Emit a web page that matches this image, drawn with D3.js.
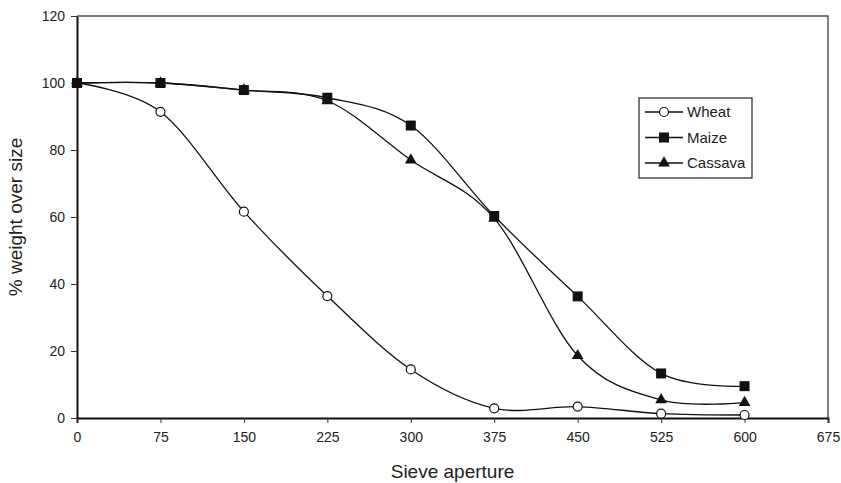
<!DOCTYPE html>
<html>
<head>
<meta charset="utf-8">
<script src="https://cdn.jsdelivr.net/npm/d3@7"></script>
<style>
    body { margin: 0; background: #fff; }
    svg { display: block; font-family: "Liberation Sans", Arial, sans-serif; }
</style>
</head>
<body>
<div id="chart"></div>
<script>
// Sieve apertures (x values)
const apertures = [0, 75, 150, 225, 300, 375, 450, 525, 600];

// % weight over size for each flour
const wheat   = [100, 91.4, 61.6, 36.4, 14.5, 2.9, 3.4, 1.3, 0.9];
const maize   = [100, 100, 97.9, 95.6, 87.3, 60.3, 36.3, 13.3, 9.5];
const cassava = [100, 100, 97.9, 94.7, 77.0, 59.6, 18.6, 5.4, 4.6];

// Tick labels
const xTicks = [0, 75, 150, 225, 300, 375, 450, 525, 600, 675];
const yTicks = [0, 20, 40, 60, 80, 100, 120];

const seriesNames = ["Wheat", "Maize", "Cassava"];
const seriesValues = [wheat, maize, cassava];

// Set up the dimensions of the chart
const W = 841, H = 483;
const margin = {top: 16, right: 13, bottom: 65, left: 77};
const width = W - margin.left - margin.right;
const height = H - margin.top - margin.bottom;

const svg = d3.select("#chart")
    .append("svg")
    .attr("width", W)
    .attr("height", H);

const g = svg.append("g")
    .attr("transform", `translate(${margin.left}, ${margin.top})`);

// Scales
const x = d3.scaleLinear().domain([0, 675]).range([0, width]);
const y = d3.scaleLinear().domain([0, 120]).range([height, 0]);

// Plot area border (top and right)
g.append("path")
    .attr("d", `M0,0H${width}V${height}`)
    .attr("fill", "none")
    .attr("stroke", "#555")
    .attr("stroke-width", 1.5);

// X axis
const xAxis = g.append("g")
    .attr("transform", `translate(0, ${height})`)
    .call(d3.axisBottom(x).tickValues(xTicks).tickSize(5).tickPadding(9).tickFormat(d3.format("d")));
xAxis.select(".domain").attr("stroke", "#111").attr("stroke-width", 2);
xAxis.selectAll(".tick line").attr("stroke", "#333");
xAxis.selectAll(".tick text").style("font-size", "14px").attr("fill", "#222");

// Y axis
const yAxis = g.append("g")
    .call(d3.axisLeft(y).tickValues(yTicks).tickSize(6).tickPadding(6).tickSizeOuter(0));
yAxis.select(".domain").attr("stroke", "#111").attr("stroke-width", 2);
yAxis.selectAll(".tick line").attr("stroke", "#333");
yAxis.selectAll(".tick text").style("font-size", "14px").attr("fill", "#222");

// Axis titles
g.append("text")
    .attr("x", width / 2)
    .attr("y", height + 60)
    .attr("text-anchor", "middle")
    .style("font-size", "19px")
    .attr("fill", "#222")
    .text("Sieve aperture");

g.append("text")
    .attr("transform", "rotate(-90)")
    .attr("x", -height / 2)
    .attr("y", -55)
    .attr("text-anchor", "middle")
    .style("font-size", "19px")
    .attr("fill", "#222")
    .text("% weight over size");

// Smoothed lines
const line = d3.line()
    .x((d, i) => x(apertures[i]))
    .y(d => y(d))
    .curve(d3.curveCardinal.tension(0));

seriesValues.forEach(vals => {
    g.append("path")
        .datum(vals)
        .attr("d", line)
        .attr("fill", "none")
        .attr("stroke", "#111")
        .attr("stroke-width", 1.3);
});

// Marker drawing helper
function drawMarker(sel, name) {
    if (name === "Wheat") {
        sel.append("circle").attr("r", 4.5)
            .attr("fill", "#fff").attr("stroke", "#111").attr("stroke-width", 1.2);
    } else if (name === "Maize") {
        sel.append("rect").attr("x", -5).attr("y", -5).attr("width", 10).attr("height", 10)
            .attr("fill", "#111");
    } else {
        sel.append("path").attr("d", d3.symbol(d3.symbolTriangle, 60)())
            .attr("fill", "#111");
    }
}

// Markers (cassava first, then maize, then wheat under nothing)
[2, 1, 0].forEach(s => {
    seriesValues[s].forEach((v, i) => {
        const m = g.append("g").attr("transform", `translate(${x(apertures[i])}, ${y(v)})`);
        drawMarker(m, seriesNames[s]);
    });
});
// Maize square at 0 covers the other starts
g.append("g").attr("transform", `translate(${x(0)}, ${y(100)})`).call(s => drawMarker(s, "Maize"));

// Legend
const legend = svg.append("g").attr("transform", "translate(639, 98)");
legend.append("rect")
    .attr("width", 113).attr("height", 80)
    .attr("fill", "#fff").attr("stroke", "#222").attr("stroke-width", 1.2);

seriesNames.forEach((name, i) => {
    const row = legend.append("g").attr("transform", `translate(0, ${14 + i * 25.5})`);
    row.append("line").attr("x1", 6).attr("x2", 44).attr("stroke", "#111").attr("stroke-width", 1.3);
    drawMarker(row.append("g").attr("transform", "translate(25, 0)"), name);
    row.append("text")
        .attr("x", 48).attr("dy", "0.35em")
        .style("font-size", "15px").attr("fill", "#222")
        .text(name);
});
</script>
</body>
</html>
